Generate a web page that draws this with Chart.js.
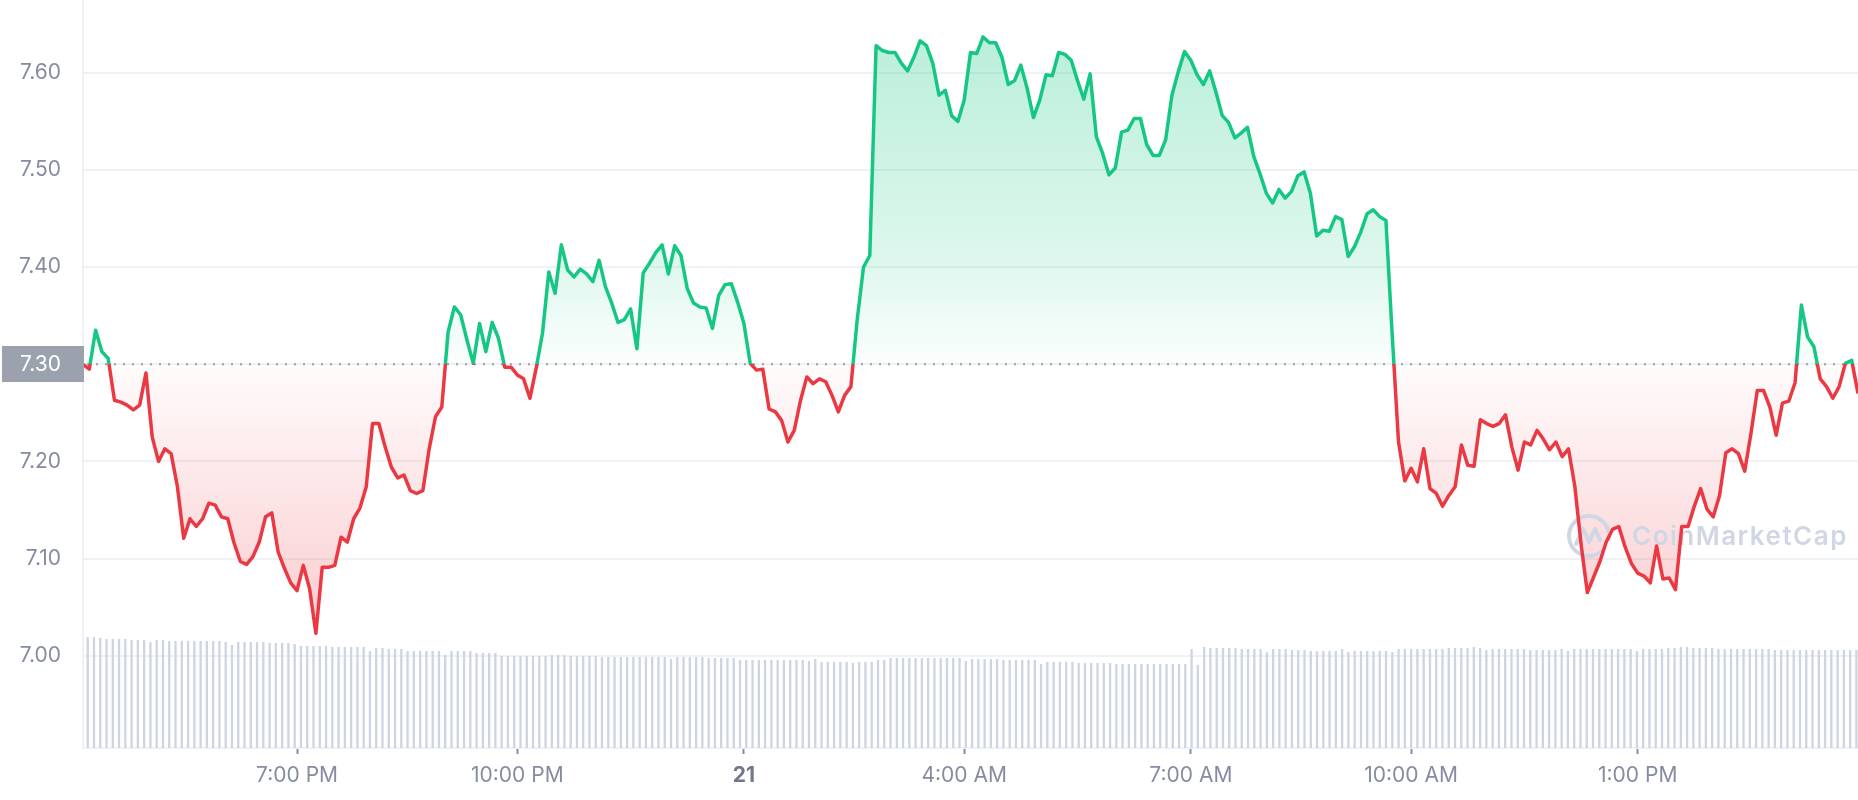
<!DOCTYPE html>
<html>
<head>
<meta charset="utf-8">
<script src="https://cdn.jsdelivr.net/npm/chart.js@4.4.1/dist/chart.umd.min.js"></script>
<style>
  html, body { margin: 0; padding: 0; background: #ffffff; }
  #wrap { width: 1858px; height: 800px; position: relative; }
</style>
</head>
<body>
<div id="wrap"><canvas id="chart"></canvas></div>
<script>
// opening price of the period, drawn as the dotted baseline
const openPrice = 7.30;

// price every ~5 minutes over 24h
const prices = [
  7.300, 7.295, 7.335, 7.313, 7.306, 7.263, 7.261, 7.258, 7.253, 7.258,
  7.291, 7.225, 7.200, 7.213, 7.208, 7.174, 7.121, 7.141, 7.133, 7.141,
  7.157, 7.155, 7.143, 7.141, 7.116, 7.097, 7.094, 7.102, 7.117, 7.143,
  7.147, 7.107, 7.090, 7.075, 7.067, 7.093, 7.069, 7.023, 7.091, 7.091,
  7.093, 7.122, 7.117, 7.141, 7.152, 7.174, 7.239, 7.239, 7.215, 7.194,
  7.183, 7.186, 7.170, 7.167, 7.170, 7.213, 7.246, 7.256, 7.333, 7.359,
  7.351, 7.325, 7.301, 7.342, 7.313, 7.343, 7.327, 7.297, 7.297, 7.289,
  7.285, 7.265, 7.296, 7.332, 7.395, 7.373, 7.423, 7.397, 7.390, 7.398,
  7.393, 7.385, 7.407, 7.380, 7.363, 7.343, 7.346, 7.357, 7.316, 7.394,
  7.404, 7.415, 7.423, 7.393, 7.422, 7.412, 7.378, 7.363, 7.359, 7.358,
  7.337, 7.371, 7.382, 7.383, 7.364, 7.342, 7.301, 7.294, 7.295, 7.254,
  7.251, 7.242, 7.220, 7.232, 7.263, 7.287, 7.280, 7.285, 7.282, 7.268,
  7.251, 7.268, 7.277, 7.346, 7.400, 7.412, 7.628, 7.623, 7.621, 7.621,
  7.610, 7.602, 7.616, 7.633, 7.628, 7.610, 7.577, 7.582, 7.556, 7.550,
  7.572, 7.621, 7.620, 7.637, 7.631, 7.631, 7.616, 7.588, 7.592, 7.608,
  7.584, 7.554, 7.572, 7.598, 7.597, 7.621, 7.619, 7.613, 7.592, 7.573,
  7.599, 7.534, 7.517, 7.495, 7.502, 7.539, 7.541, 7.553, 7.553, 7.526,
  7.515, 7.515, 7.531, 7.577, 7.601, 7.622, 7.613, 7.598, 7.588, 7.602,
  7.580, 7.556, 7.549, 7.533, 7.538, 7.544, 7.514, 7.496, 7.476, 7.466,
  7.480, 7.471, 7.478, 7.494, 7.498, 7.476, 7.432, 7.438, 7.437, 7.452,
  7.449, 7.411, 7.421, 7.436, 7.455, 7.459, 7.452, 7.448, 7.330, 7.220,
  7.180, 7.193, 7.179, 7.213, 7.172, 7.167, 7.154, 7.165, 7.174, 7.217,
  7.196, 7.195, 7.243, 7.239, 7.236, 7.239, 7.248, 7.215, 7.191, 7.220,
  7.217, 7.232, 7.223, 7.212, 7.220, 7.205, 7.213, 7.175, 7.115, 7.065,
  7.081, 7.097, 7.117, 7.130, 7.133, 7.112, 7.095, 7.085, 7.082, 7.075,
  7.113, 7.079, 7.080, 7.068, 7.133, 7.133, 7.154, 7.172, 7.151, 7.143,
  7.165, 7.209, 7.213, 7.208, 7.190, 7.229, 7.273, 7.273, 7.256, 7.227,
  7.260, 7.262, 7.281, 7.361, 7.328, 7.318, 7.285, 7.277, 7.265, 7.277,
  7.301, 7.304, 7.270
];

// 24h volume (million USD) at each point
const volumes = [
  55.5, 55.5, 55, 54.5, 54.5, 54.5, 54.5, 54, 54, 54,
  53, 54, 54, 53.5, 53.5, 53.5, 53.5, 53.5, 53.5, 53.5,
  53.5, 53.5, 53, 51.5, 53, 53, 53, 53, 53, 52.5,
  52.5, 52.5, 52.5, 52, 51, 51, 51, 51, 51, 50.5,
  50.5, 50.5, 50.5, 50.5, 50.5, 48.5, 50, 50, 49.5, 49.5,
  49.5, 48.5, 48.5, 48.5, 48.5, 48.5, 48.5, 46.5, 48.5, 48.5,
  48.5, 48.5, 47.5, 47.5, 47.5, 47.5, 46, 46, 46, 46,
  46, 46, 46, 46, 46.5, 46.5, 46.5, 46, 46, 46,
  46, 46, 45.5, 45.5, 45.5, 45.5, 45.5, 45.5, 45.5, 45.5,
  45.5, 45.5, 45.5, 44.5, 45.5, 45.5, 45.5, 45.5, 45.5, 45,
  45, 45, 45, 45, 44, 44, 44, 44, 44, 44,
  44, 44, 44, 44, 44, 43.5, 44.5, 43, 43, 43,
  43, 43, 42.5, 43, 43, 43, 44, 44, 45, 45,
  45, 45, 45, 45, 45, 45, 45, 45, 45, 45,
  43.5, 44.5, 44.5, 44.5, 44.5, 44.5, 44, 44, 44, 44,
  44, 44, 42, 43, 43, 43, 43, 43, 42.5, 42.5,
  42.5, 42.5, 42.5, 42.5, 42, 42, 42, 42, 42, 42,
  42, 42, 42, 42, 42, 42, 49.5, 41.5, 50.5, 50,
  50, 50, 50, 50, 49.5, 49.5, 49.5, 49.5, 48, 49.5,
  49.5, 49.5, 49, 49, 49, 48.5, 48.5, 48.5, 48.5, 48.5,
  49.5, 48, 48.5, 48.5, 48.5, 48.5, 48.5, 48.5, 48, 49.5,
  49.5, 49.5, 49.5, 49.5, 49.5, 49.5, 49.5, 50, 50, 50,
  50, 50.5, 50, 49, 49.5, 49.5, 49.5, 49.5, 49.5, 49.5,
  49, 49, 49, 49, 49, 49.5, 48.5, 49.5, 49.5, 49.5,
  49.5, 49.5, 49.5, 49.5, 49.5, 49.5, 49.5, 48.5, 49.5, 49.5,
  49.5, 49.5, 50, 50, 50.5, 50.5, 50, 50, 50, 50,
  49.5, 49.5, 49.5, 49.5, 49.5, 49.5, 49.5, 49.5, 49.5, 49,
  49, 49, 49, 49, 49, 49, 49, 49, 49, 49,
  49, 49, 49
];

// x tick labels and the point each one sits on
const tickLabels = ['7:00 PM', '10:00 PM', '21', '4:00 AM', '7:00 AM', '10:00 AM', '1:00 PM'];
const tickIndex = [34, 69, 105, 140, 176, 211, 247];

// y tick values
const yTicks = [7.00, 7.10, 7.20, 7.30, 7.40, 7.50, 7.60];
const yMin = 6.905;
const yMax = 7.675;
const volMax = 374;

const green = '#16c784';
const red = '#ea3943';
const labelGrey = '#858ca2';
const gridGrey = '#eff2f5';

const labels = prices.map((p, i) => {
  const j = tickIndex.indexOf(i);
  return j < 0 ? '' : tickLabels[j];
});

function baseFrac(chart) {
  const a = chart.chartArea;
  const yb = chart.scales.y.getPixelForValue(openPrice);
  return Math.min(Math.max((yb - a.top) / (a.bottom - a.top), 0), 1);
}

function lineColor(c) {
  const chart = c.chart;
  if (!chart.chartArea) return green;
  const a = chart.chartArea;
  const t = baseFrac(chart);
  const g = chart.ctx.createLinearGradient(0, a.top, 0, a.bottom);
  g.addColorStop(0, green);
  g.addColorStop(t, green);
  g.addColorStop(t, red);
  g.addColorStop(1, red);
  return g;
}

function areaColor(c) {
  const chart = c.chart;
  if (!chart.chartArea) return 'rgba(22,199,132,0.1)';
  const a = chart.chartArea;
  const t = baseFrac(chart);
  const g = chart.ctx.createLinearGradient(0, a.top, 0, a.bottom);
  g.addColorStop(0, 'rgba(22,199,132,0.32)');
  g.addColorStop(t * 0.72, 'rgba(22,199,132,0.14)');
  g.addColorStop(t, 'rgba(22,199,132,0.015)');
  g.addColorStop(t, 'rgba(234,57,67,0.02)');
  g.addColorStop(Math.min(t + (1 - t) * 0.76, 1), 'rgba(234,57,67,0.27)');
  g.addColorStop(1, 'rgba(234,57,67,0.32)');
  return g;
}

const openLine = {
  id: 'openLine',
  beforeDatasetsDraw(chart) {
    const { ctx, chartArea: a, scales: { y } } = chart;
    const py = y.getPixelForValue(openPrice);
    ctx.save();
    ctx.strokeStyle = '#979eab';
    ctx.lineWidth = 2;
    ctx.setLineDash([2, 7]);
    ctx.beginPath();
    ctx.moveTo(a.left + 4, py);
    ctx.lineTo(a.right, py);
    ctx.stroke();
    ctx.restore();
  },
  beforeDatasetDraw(chart, args) {
    if (args.index !== 0) return;
    // watermark sits between the area fill and the price line
    const { ctx, chartArea: a } = chart;
    const cx = a.right - 269, cy = a.bottom - 212;
    ctx.save();
    ctx.strokeStyle = '#cfd6e4';
    ctx.fillStyle = '#cfd6e4';
    ctx.lineWidth = 4;
    ctx.lineJoin = 'round';
    ctx.lineCap = 'round';
    ctx.beginPath();
    ctx.arc(cx, cy, 20, 0.25 * Math.PI, 2.05 * Math.PI);
    ctx.stroke();
    ctx.beginPath();
    ctx.moveTo(cx - 13, cy + 8);
    ctx.lineTo(cx - 6, cy - 7);
    ctx.lineTo(cx, cy + 6);
    ctx.lineTo(cx + 6, cy - 7);
    ctx.lineTo(cx + 11, cy + 4);
    ctx.stroke();
    ctx.font = '600 26px Inter';
    ctx.letterSpacing = '1.5px';
    ctx.textAlign = 'left';
    ctx.textBaseline = 'alphabetic';
    ctx.fillText('CoinMarketCap', a.right - 226, a.bottom - 203);
    ctx.restore();
  },
  afterDraw(chart) {
    const { ctx, chartArea: a, scales: { y } } = chart;
    const py = y.getPixelForValue(openPrice);
    ctx.save();
    ctx.fillStyle = '#9ba1ad';
    ctx.fillRect(2, Math.round(py) - 18, a.left - 1, 36);
    ctx.fillStyle = '#ffffff';
    ctx.font = '21px Inter';
    ctx.textAlign = 'right';
    ctx.textBaseline = 'middle';
    ctx.fillText(openPrice.toFixed(2), a.left - 22, py);
    ctx.restore();
  }
};

const isDay = c => c.tick && String(c.tick.label).indexOf(':') < 0;

new Chart(document.getElementById('chart'), {
  data: {
    labels: labels,
    datasets: [
      {
        type: 'line',
        data: prices,
        xAxisID: 'x',
        yAxisID: 'y',
        borderWidth: 3.5,
        borderColor: lineColor,
        backgroundColor: areaColor,
        borderJoinStyle: 'round',
        fill: { target: { value: openPrice } },
        pointRadius: 0,
        pointHoverRadius: 0,
        tension: 0,
        order: 1
      },
      {
        type: 'bar',
        data: volumes,
        xAxisID: 'xv',
        yAxisID: 'yv',
        backgroundColor: '#cdd4e2',
        barPercentage: 0.74,
        categoryPercentage: 1,
        order: 2
      }
    ]
  },
  options: {
    responsive: true,
    maintainAspectRatio: false,
    animation: false,
    layout: { padding: 0 },
    plugins: {
      legend: { display: false },
      tooltip: { enabled: false }
    },
    scales: {
      x: {
        type: 'category',
        offset: false,
        afterBuildTicks: s => { s.ticks = tickIndex.map(i => ({ value: i })); },
        afterFit: s => { s.height = 52; s.paddingLeft = 0; s.paddingRight = 0; },
        grid: {
          display: true,
          drawOnChartArea: false,
          drawTicks: true,
          tickLength: 6,
          tickWidth: 2,
          tickColor: labelGrey,
          offset: false
        },
        border: { color: gridGrey, width: 2 },
        ticks: {
          autoSkip: false,
          maxRotation: 0,
          padding: 9,
          color: c => isDay(c) ? '#6f778a' : labelGrey,
          font: c => ({ family: 'Inter', size: 21, weight: isDay(c) ? '700' : '400' })
        }
      },
      xv: {
        type: 'category',
        display: false,
        offset: true,
        grid: { offset: true }
      },
      y: {
        position: 'left',
        min: yMin,
        max: yMax,
        afterBuildTicks: s => { s.ticks = yTicks.map(v => ({ value: v })); },
        afterFit: s => { s.width = 83; s.paddingTop = 0; s.paddingBottom = 0; },
        grid: { color: gridGrey, lineWidth: 2, drawTicks: false },
        border: { color: gridGrey, width: 2 },
        ticks: {
          padding: 22,
          color: labelGrey,
          font: { family: 'Inter', size: 21 },
          callback: v => v.toFixed(2)
        }
      },
      yv: {
        display: false,
        min: 0,
        max: volMax
      }
    }
  },
  plugins: [openLine]
});
</script>
</body>
</html>
